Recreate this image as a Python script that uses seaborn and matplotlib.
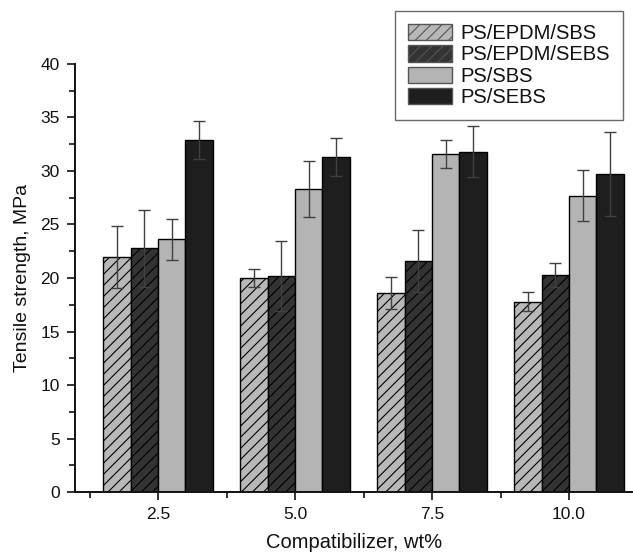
import pandas as pd
import seaborn as sns
import matplotlib.pyplot as plt
from matplotlib.patches import Patch
from matplotlib.ticker import MultipleLocator, FixedLocator

# Data
loadings = ['2.5', '5.0', '7.5', '10.0']
series = ['PS/EPDM/SBS', 'PS/EPDM/SEBS', 'PS/SBS', 'PS/SEBS']
eps_sbs = [22.0, 20.0, 18.6, 17.8]
eps_sbs_err = [2.9, 0.8, 1.5, 0.9]
eps_sebs = [22.8, 20.2, 21.6, 20.3]
eps_sebs_err = [3.6, 3.3, 2.9, 1.1]
ps_sbs = [23.6, 28.3, 31.6, 27.7]
ps_sbs_err = [1.9, 2.6, 1.3, 2.4]
ps_sebs = [32.9, 31.3, 31.8, 29.7]
ps_sebs_err = [1.8, 1.8, 2.4, 3.9]

faces = ['#b8b8b8', '#333333', '#b4b4b4', '#1e1e1e']
hatches = ['///', '///', '', '']

sns.set_style('ticks')
plt.rcParams['font.family'] = ['Liberation Sans', 'DejaVu Sans']
plt.rcParams['hatch.linewidth'] = 0.8
for key in ['text.color', 'axes.labelcolor', 'xtick.color', 'ytick.color',
            'axes.edgecolor']:
    plt.rcParams[key] = '#111111'

values = [eps_sbs, eps_sebs, ps_sbs, ps_sebs]
errors = [eps_sbs_err, eps_sebs_err, ps_sbs_err, ps_sebs_err]
rows = []
for name, vals, errs in zip(series, values, errors):
    for c, v, e in zip(loadings, vals, errs):
        rows.append({'loading': c, 'series': name, 'strength': v, 'err': e})
df = pd.DataFrame(rows)

fig = plt.figure(figsize=(6.33, 5.56), dpi=100)
ax = fig.add_axes([0.1185, 0.1151, 0.8815, 0.7698])

sns.barplot(data=df, x='loading', y='strength', hue='series', order=loadings,
            hue_order=series, palette=faces, width=0.8, gap=0,
            edgecolor='black', linewidth=1, errorbar=None, legend=False, ax=ax)

# hatches and error bars, one container per series
for cont, h, errs in zip(ax.containers, hatches, errors):
    xs, ys = [], []
    for bar in cont:
        bar.set_hatch(h)
        xs.append(bar.get_x() + bar.get_width() / 2)
        ys.append(bar.get_height())
    ax.errorbar(xs, ys, yerr=errs, fmt='none', ecolor='#404040',
                elinewidth=1, capsize=4, capthick=1, zorder=3)

ax.set_ylim(0, 40)
ax.set_xlim(-0.606, 3.467)
ax.yaxis.set_major_locator(MultipleLocator(5))
ax.yaxis.set_minor_locator(MultipleLocator(2.5))
ax.xaxis.set_minor_locator(FixedLocator([-0.5, 0.5, 1.5, 2.5]))
ax.tick_params(axis='both', which='major', labelsize=12.5, length=6, width=1.2,
               pad=5)
ax.tick_params(axis='both', which='minor', length=4, width=1.2)
for s in ['left', 'bottom']:
    ax.spines[s].set_linewidth(1.4)
sns.despine(ax=ax)

ax.set_xlabel('Compatibilizer, wt%', fontsize=14.5, labelpad=8)
ax.set_ylabel('Tensile strength, MPa', fontsize=14, labelpad=7)

handles = [Patch(facecolor=f, edgecolor='#555555', hatch=h, label=n)
           for f, h, n in zip(faces, hatches, series)]
leg = ax.legend(handles=handles, loc='upper right',
                bbox_to_anchor=(620 / 633, 1 - 14 / 556),
                bbox_transform=fig.transFigure,
                fontsize=14.5, frameon=True, fancybox=False, edgecolor='#444444',
                handlelength=2.2, handleheight=0.85, labelspacing=0.12,
                borderpad=0.5, handletextpad=0.4, borderaxespad=0)
leg.get_frame().set_linewidth(1)
leg.get_frame().set_boxstyle('square', pad=0.15)

fig.savefig('out.png', dpi=100)
